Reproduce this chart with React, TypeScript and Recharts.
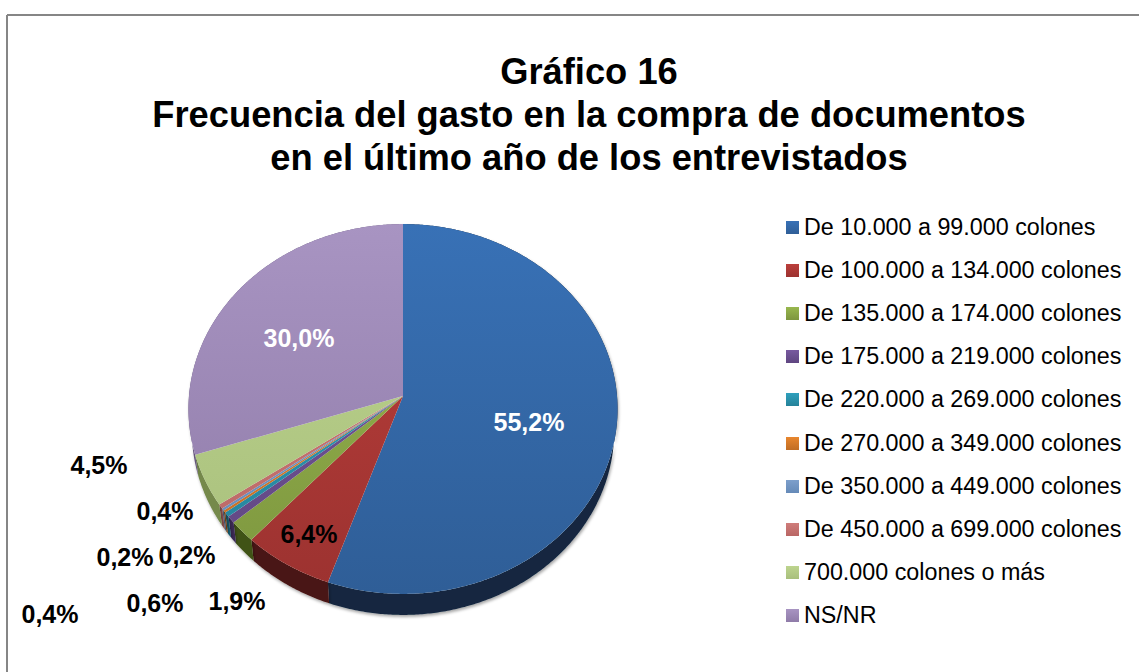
import React from "react";
import { PieChart, Pie, Cell, Legend } from "recharts";

const CATEGORIES = [
  "De 10.000 a 99.000 colones",
  "De 100.000 a 134.000 colones",
  "De 135.000 a 174.000 colones",
  "De 175.000 a 219.000 colones",
  "De 220.000 a 269.000 colones",
  "De 270.000 a 349.000 colones",
  "De 350.000 a 449.000 colones",
  "De 450.000 a 699.000 colones",
  "700.000 colones o más",
  "NS/NR",
];
const VALUES = [55.2, 6.4, 1.9, 0.6, 0.4, 0.2, 0.2, 0.4, 4.5, 30.0];
const TITLE_LINES = [
  "Gráfico 16",
  "Frecuencia del gasto en la compra de documentos",
  "en el último año de los entrevistados",
];

const TOP_LIGHT = ["#3871b6", "#bb3f3b", "#98b74e", "#7859a0", "#2fa0bd", "#e8862e", "#7d9fcb", "#cf7d7b", "#bdd48e", "#a894c2"];
const TOP_DARK = ["#2f5e97", "#9c3230", "#7d963f", "#5f4680", "#258299", "#c06d24", "#658ab8", "#b96664", "#a8bf7c", "#8f7ba8"];
const SIDE = ["#12263f", "#4a1412", "#3f5317", "#3a2955", "#14596b", "#8a4a10", "#4f6a8a", "#8a4f4e", "#74894c", "#65557c"];

const LABEL_POS: [number, number][] = [
  [529, 431], [309, 543], [237, 610], [155, 612], [50, 623],
  [125, 566], [187, 564], [165, 520], [99, 474], [299, 347],
];

const W = 1139;
const H = 672;
const CX = 403;
const CY = 396;
const RX = 214;
const RY = 184;
const PERSP = 0.0703;
const DEPTH = 21;
const BASE_SCALE = 0.985;

const rows = CATEGORIES.map((name, i) => ({ name, value: VALUES[i], idx: i }));

// Rim of the tilted disc: angle in Recharts' degrees, projected with slight perspective.
function rim(deg: number, cx: number, cy: number): [number, number] {
  const r = (deg * Math.PI) / 180;
  const u = Math.cos(r);
  const v = -Math.sin(r);
  const d = 1 - PERSP * v;
  return [cx + (RX * u) / d, cy + (RY * v) / d];
}

function arcPoints(a: number, b: number, cx: number, cy: number, dy = 0, sx = 1) {
  const pts: string[] = [];
  const steps = Math.max(2, Math.ceil(Math.abs(a - b) * 2));
  for (let i = 0; i <= steps; i++) {
    const [x, y] = rim(a + ((b - a) * i) / steps, cx, cy);
    pts.push(`${(cx + (x - cx) * sx).toFixed(2)} ${(y + dy).toFixed(2)}`);
  }
  return pts;
}

const TopShape = (p: any) => {
  const pts = arcPoints(p.startAngle, p.endAngle, p.cx, p.cy);
  return <path d={`M${p.cx} ${p.cy}L${pts.join("L")}Z`} fill={`url(#top${p.idx})`} stroke="none" />;
};

const WallShape = (p: any) => {
  const a = arcPoints(p.startAngle, p.endAngle, p.cx, p.cy);
  const b = arcPoints(p.endAngle, p.startAngle, p.cx, p.cy, DEPTH, BASE_SCALE);
  return <path d={`M${a.join("L")}L${b.join("L")}Z`} fill={SIDE[p.idx]} stroke="none" filter="url(#pieShadow)" />;
};

const renderLabel = (p: any) => {
  const i = p.idx ?? p.payload?.idx ?? p.index;
  const [x, y] = LABEL_POS[i];
  const white = i === 0 || i === 9;
  return (
    <text
      key={i}
      x={x}
      y={y}
      textAnchor="middle"
      fill={white ? "#ffffff" : "#000000"}
      style={{ fontFamily: "'Liberation Sans', Arial, sans-serif", fontWeight: 700, fontSize: 25 }}
    >
      {VALUES[i].toFixed(1).replace(".", ",") + "%"}
    </text>
  );
};

const LegendBox = () => (
  <div style={{ fontFamily: "'Liberation Sans', Arial, sans-serif", fontSize: 23.3, color: "#000" }}>
    {CATEGORIES.map((name, i) => (
      <div key={name} style={{ display: "flex", alignItems: "center", height: 43.1, whiteSpace: "nowrap" }}>
        <span
          style={{
            display: "inline-block",
            width: 13,
            height: 13,
            marginRight: 5,
            background: `linear-gradient(${TOP_LIGHT[i]}, ${TOP_DARK[i]})`,
          }}
        />
        {name}
      </div>
    ))}
  </div>
);

export default function App() {
  return (
    <div style={{ position: "absolute", left: 0, top: 0, width: W, height: H, background: "#fff", overflow: "hidden" }}>
      <PieChart width={W} height={H} margin={{ top: 0, right: 0, bottom: 0, left: 0 }}>
        <defs>
          {CATEGORIES.map((_, i) => (
            <linearGradient key={i} id={`top${i}`} gradientUnits="userSpaceOnUse" x1="0" y1="224" x2="0" y2="594">
              <stop offset="0" stopColor={TOP_LIGHT[i]} />
              <stop offset="1" stopColor={TOP_DARK[i]} />
            </linearGradient>
          ))}
          <filter id="pieShadow" x="-20%" y="-20%" width="140%" height="140%">
            <feDropShadow dx="1" dy="2" stdDeviation="1.5" floodColor="#000" floodOpacity="0.35" />
          </filter>
        </defs>
        <line x1={7} y1={15} x2={W} y2={15} stroke="#868686" strokeWidth={2} />
        <line x1={7} y1={15} x2={7} y2={H} stroke="#868686" strokeWidth={2} />
        {TITLE_LINES.map((t, i) => (
          <text
            key={t}
            x={589}
            y={84 + i * 43}
            textAnchor="middle"
            fill="#000"
            style={{ fontFamily: "'Liberation Sans', Arial, sans-serif", fontWeight: 700, fontSize: 36.3 }}
          >
            {t}
          </text>
        ))}
        <Pie
          data={rows}
          dataKey="value"
          nameKey="name"
          cx={CX}
          cy={CY}
          outerRadius={RX}
          startAngle={90}
          endAngle={-270}
          stroke="none"
          legendType="none"
          label={false}
          labelLine={false}
          isAnimationActive={false}
          shape={WallShape}
        />
        <Pie
          data={rows}
          dataKey="value"
          nameKey="name"
          cx={CX}
          cy={CY}
          outerRadius={RX}
          startAngle={90}
          endAngle={-270}
          stroke="none"
          legendType="square"
          label={renderLabel}
          labelLine={false}
          isAnimationActive={false}
          shape={TopShape}
        >
          {CATEGORIES.map((_, i) => (
            <Cell key={i} fill={TOP_LIGHT[i]} />
          ))}
        </Pie>
        <Legend
          content={<LegendBox />}
          layout="vertical"
          wrapperStyle={{ position: "absolute", left: 786, top: 206, width: 350, bottom: "auto", right: "auto" }}
        />
      </PieChart>
    </div>
  );
}
